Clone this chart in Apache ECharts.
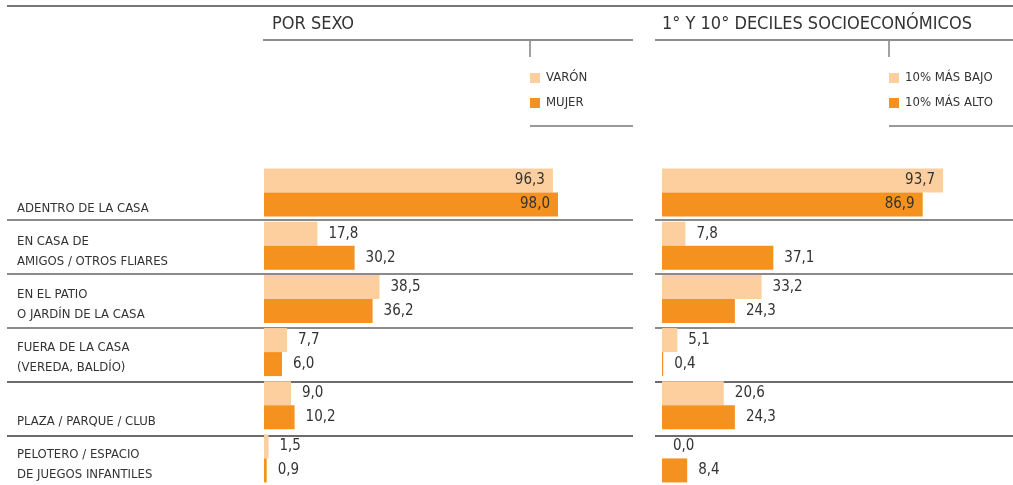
<!DOCTYPE html>
<html>
<head>
    <meta charset="utf-8">
    <title>Lugares de juego</title>
    <script src="https://cdn.jsdelivr.net/npm/echarts@6/dist/echarts.min.js"></script>
    <style>
        html, body { margin: 0; padding: 0; background: #fff; }
    </style>
</head>
<body>
    <div id="chart" style="width: 1013px;height:485px"></div>

    <script>
        const categories = [
            'ADENTRO DE LA CASA',
            'EN CASA DE\nAMIGOS / OTROS FLIARES',
            'EN EL PATIO\nO JARDÍN DE LA CASA',
            'FUERA DE LA CASA\n(VEREDA, BALDÍO)',
            'PLAZA / PARQUE / CLUB',
            'PELOTERO / ESPACIO\nDE JUEGOS INFANTILES'
        ]
        const varon = [96.3, 17.8, 38.5, 7.7, 9.0, 1.5]
        const mujer = [98.0, 30.2, 36.2, 6.0, 10.2, 0.9]
        const masBajo = [93.7, 7.8, 33.2, 5.1, 20.6, 0.0]
        const masAlto = [86.9, 37.1, 24.3, 0.4, 24.3, 8.4]

        const font = "'Liberation Sans Narrow', 'DejaVu Sans Condensed', sans-serif"
        const light = '#fecf9e'
        const dark = '#f5921f'
        const ink = '#333'

        const fmt = v => v.toFixed(1).replace('.', ',')

        // big bars get the number inside, the rest next to the bar
        const withLabels = vals => vals.map(v => v > 80
            ? { value: v, label: { position: 'insideRight', distance: 8 } }
            : { value: v })

        const barSeries = (name, vals, color, idx) => ({
            name,
            type: 'bar',
            xAxisIndex: idx,
            yAxisIndex: idx,
            data: withLabels(vals),
            barWidth: 24,
            barGap: '0%',
            itemStyle: { color },
            label: {
                show: true,
                position: 'right',
                distance: 11,
                formatter: p => fmt(p.value),
                fontFamily: font,
                fontSize: 15,
                color: ink
            }
        })

        const line = (x1, y1, x2, y2, stroke, w) => ({
            type: 'line',
            silent: true,
            shape: { x1, y1, x2, y2 },
            style: { stroke, lineWidth: w }
        })

        const rowTop = 166, rowH = 54
        const seps = []
        for (let i = 1; i <= 6; i++) {
            const y = rowTop + i * rowH
            const c = i <= 3 ? '#8a8a8a' : '#3a3a3a'
            const w = i <= 3 ? 2 : 1.5
            seps.push(line(7, y, 633, y, c, w))
            seps.push(line(655, y, 1013, y, c, w))
        }

        const legendText = { fontFamily: font, fontSize: 13, lineHeight: 14, color: ink, padding: [0, 0, 0, 1] }

        const chart = echarts.init(document.getElementById('chart'))
        chart.setOption({
            animation: false,
            textStyle: { fontFamily: font },
            title: [
                { text: 'POR SEXO', left: 272, top: 15, padding: 0,
                  textStyle: { fontFamily: font, fontSize: 18, fontWeight: 'normal', color: ink } },
                { text: '1° Y 10° DECILES SOCIOECONÓMICOS', left: 662, top: 15, padding: 0,
                  textStyle: { fontFamily: font, fontSize: 18, fontWeight: 'normal', color: ink } }
            ],
            legend: [
                { data: ['VARÓN', 'MUJER'], orient: 'vertical', left: 530, top: 71, padding: 0,
                  icon: 'rect', itemWidth: 10, itemHeight: 10, itemGap: 11, textStyle: legendText },
                { data: ['10% MÁS BAJO', '10% MÁS ALTO'], orient: 'vertical', left: 889, top: 71, padding: 0,
                  icon: 'rect', itemWidth: 10, itemHeight: 10, itemGap: 11, textStyle: legendText }
            ],
            grid: [
                { left: 264, top: rowTop, width: 300, height: rowH * 6 },
                { left: 662, top: rowTop, width: 300, height: rowH * 6 }
            ],
            xAxis: [
                { gridIndex: 0, type: 'value', min: 0, max: 100, show: false },
                { gridIndex: 1, type: 'value', min: 0, max: 100, show: false }
            ],
            yAxis: [
                {
                    gridIndex: 0, type: 'category', inverse: true, data: categories,
                    axisLine: { show: false }, axisTick: { show: false },
                    axisLabel: {
                        interval: 0, margin: 247, align: 'left', verticalAlign: 'bottom',
                        padding: [0, 0, -26, 0], lineHeight: 20,
                        fontFamily: font, fontSize: 13, color: ink
                    }
                },
                {
                    gridIndex: 1, type: 'category', inverse: true, data: categories,
                    axisLine: { show: false }, axisTick: { show: false }, axisLabel: { show: false }
                }
            ],
            series: [
                barSeries('VARÓN', varon, light, 0),
                barSeries('MUJER', mujer, dark, 0),
                barSeries('10% MÁS BAJO', masBajo, light, 1),
                barSeries('10% MÁS ALTO', masAlto, dark, 1)
            ],
            graphic: [
                line(7, 6, 1013, 6, '#777', 2),
                line(263, 40, 633, 40, '#666', 1.5),
                line(655, 40, 1013, 40, '#666', 1.5),
                line(530, 41, 530, 57, '#444', 1),
                line(889, 41, 889, 57, '#444', 1),
                line(530, 126, 633, 126, '#777', 1.5),
                line(889, 126, 1013, 126, '#777', 1.5),
                ...seps
            ]
        })
    </script>
</body>
</html>
